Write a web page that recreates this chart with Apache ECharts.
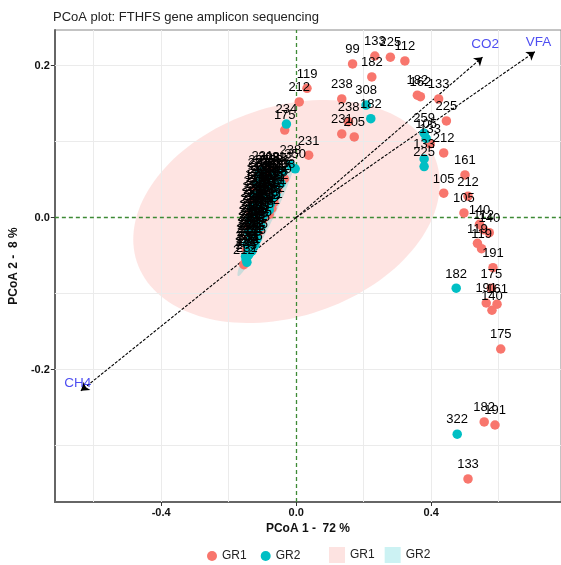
<!DOCTYPE html>
<html><head><meta charset="utf-8">
<script src="https://cdn.jsdelivr.net/npm/echarts@6/dist/echarts.min.js"></script>
<style>html,body{margin:0;padding:0;background:#fff}#c{width:561px;height:565px}</style>
</head><body><div id="c"></div>
<script>
// ---- axes ----
const xTicks = [-0.4, 0, 0.4];
const yTicks = [-0.2, 0, 0.2];
const xGrid = [-0.6, -0.4, -0.2, 0.2, 0.4, 0.6];
const yGrid = [-0.3, -0.2, -0.1, 0.1, 0.2];

// ---- samples [PCoA1, PCoA2, label] ----
const gr1Outliers = [
  [0.167, 0.202, '99'], [0.233, 0.2125, '133'], [0.279, 0.211, '225'], [0.322, 0.206, '112'],
  [0.224, 0.185, '182'], [0.032, 0.170, '119'], [0.009, 0.152, '212'], [0.135, 0.156, '238'],
  [0.155, 0.126, '238'], [0.135, 0.110, '231'], [0.172, 0.106, '205'], [0.037, 0.082, '231'],
  [-0.034, 0.115, '175'], [0.359, 0.161, '182'], [0.368, 0.159, '162'], [0.422, 0.156, '133'],
  [0.445, 0.127, '225'], [0.397, 0.097, '133'], [0.437, 0.085, '212'], [0.500, 0.056, '161'],
  [0.437, 0.032, '105'], [0.509, 0.028, '212'], [0.497, 0.006, '105'], [0.543, -0.009, '140'],
  [0.572, -0.020, '140'], [0.555, -0.016, '112'], [0.537, -0.034, '119'], [0.549, -0.041, '119'],
  [0.583, -0.066, '191'], [0.578, -0.093, '175'], [0.563, -0.1125, '191'], [0.595, -0.114, '161'],
  [0.580, -0.122, '140'], [0.606, -0.173, '175'], [0.557, -0.269, '182'], [0.589, -0.273, '191'],
  [0.509, -0.344, '133']
];
const gr2Outliers = [
  [0.207, 0.148, '308'], [0.221, 0.130, '182'], [-0.029, 0.123, '234'], [0.379, 0.111, '259'],
  [0.385, 0.104, '105'], [0.379, 0.077, '133'], [0.379, 0.067, '225'], [0.474, -0.093, '182'],
  [0.477, -0.285, '322'], [-0.003, 0.064, '350']
];
const gr1Cluster = [
  [-0.080, 0.060, '308'], [-0.112, 0.052, '231'], [-0.075, 0.053, '212'], [-0.035, 0.051, '238'],
  [-0.098, 0.045, '205'], [-0.063, 0.046, '231'], [-0.120, 0.037, '175'], [-0.088, 0.038, '212'],
  [-0.055, 0.036, '182'], [-0.108, 0.029, '238'], [-0.076, 0.030, '205'], [-0.128, 0.021, '231'],
  [-0.096, 0.022, '140'], [-0.066, 0.020, '212'], [-0.116, 0.013, '119'], [-0.086, 0.014, '205'],
  [-0.072, 0.012, '231'], [-0.134, 0.005, '238'], [-0.106, 0.006, '212'], [-0.080, 0.004, '182'],
  [-0.124, -0.003, '231'], [-0.098, -0.002, '205'], [-0.139, -0.011, '212'], [-0.115, -0.010, '238'],
  [-0.130, -0.019, '231'], [-0.110, -0.018, '175'], [-0.143, -0.027, '205'], [-0.124, -0.026, '212'],
  [-0.138, -0.035, '231'], [-0.148, -0.043, '238'], [-0.155, -0.062, '212'],
  [-0.090, 0.056, '212'], [-0.050, 0.057, '231'], [-0.105, 0.048, '238'], [-0.070, 0.049, '205'],
  [-0.112, 0.041, '231'], [-0.078, 0.041, '212'], [-0.116, 0.033, '205'], [-0.082, 0.034, '238'],
  [-0.118, 0.025, '212'], [-0.086, 0.026, '231'], [-0.124, 0.017, '238'], [-0.090, 0.018, '205'],
  [-0.126, 0.009, '212'], [-0.094, 0.010, '231'], [-0.128, 0.001, '205'], [-0.132, -0.007, '238'],
  [-0.106, -0.006, '231'], [-0.135, -0.015, '212'], [-0.114, -0.014, '205'], [-0.137, -0.023, '231'],
  [-0.141, -0.031, '238'], [-0.144, -0.039, '212'], [-0.145, -0.047, '205']
];
const gr2Cluster = [
  [-0.100, 0.061, '231'], [-0.060, 0.059, '238'], [-0.040, 0.060, '212'], [-0.095, 0.052, '205'],
  [-0.055, 0.053, '231'], [-0.115, 0.045, '212'], [-0.082, 0.044, '238'], [-0.045, 0.045, '350'],
  [-0.104, 0.037, '231'], [-0.070, 0.038, '205'], [-0.124, 0.029, '238'], [-0.092, 0.028, '212'],
  [-0.060, 0.030, '231'], [-0.112, 0.021, '205'], [-0.080, 0.022, '238'], [-0.131, 0.013, '231'],
  [-0.101, 0.012, '212'], [-0.120, 0.005, '205'], [-0.092, 0.006, '231'], [-0.137, -0.003, '212'],
  [-0.111, -0.004, '238'], [-0.127, -0.011, '231'], [-0.104, -0.012, '205'], [-0.141, -0.019, '212'],
  [-0.120, -0.020, '231'], [-0.134, -0.027, '238'], [-0.116, -0.028, '205'], [-0.146, -0.035, '212'],
  [-0.130, -0.034, '231'], [-0.122, -0.036, '175'], [-0.140, -0.043, '231'], [-0.131, -0.044, '205'],
  [-0.150, -0.051, '212'], [-0.142, -0.050, '238'], [-0.146, -0.059, '231'], [-0.017, 0.069, '238'],
  [-0.070, 0.056, '238'], [-0.110, 0.057, '205'], [-0.088, 0.048, '231'], [-0.050, 0.049, '212'],
  [-0.096, 0.041, '205'], [-0.060, 0.042, '238'], [-0.100, 0.033, '212'], [-0.066, 0.034, '231'],
  [-0.102, 0.025, '205'], [-0.070, 0.026, '212'], [-0.108, 0.017, '231'], [-0.076, 0.018, '238'],
  [-0.110, 0.009, '205'], [-0.080, 0.010, '212'], [-0.112, 0.001, '231'], [-0.098, 0.002, '238'],
  [-0.119, -0.007, '212'], [-0.124, -0.015, '231'], [-0.126, -0.023, '205'], [-0.128, -0.031, '212'],
  [-0.136, -0.039, '238'], [-0.138, -0.047, '231'], [-0.148, -0.055, '205']
];

// ---- environmental vectors ----
const vectorNames = ['CO2', 'VFA', 'CH4'];
const vectorX = [0.552, 0.707, -0.638];
const vectorY = [0.211, 0.218, -0.228];
const vectorLabelX = [0.560, 0.718, -0.647];
const vectorLabelY = [0.228, 0.230, -0.218];

// ---- ellipses: centre x, centre y, half-range x, half-range y, correlation ----
const ellipseGR1 = [-0.0287, 0.0079, 0.454, 0.1467, 0.25];
const ellipseGR2 = [-0.089, -0.001, 0.085, 0.076, 0.97];

const RED = '#F8766D', CYAN = '#00BFC4';
const FONT = 'Liberation Sans, Arial, sans-serif';
const ZERO_LINE = { color: '#3d8a35', width: 1.3, type: [4, 3] };

function ellipseSeries(name, par, fill) {
  return {
    type: 'custom', name, coordinateSystem: 'cartesian2d', silent: true, z: 2,
    data: [[par[0], par[1]]],
    renderItem(params, api) {
      const [cx, cy, rx, ry, rho] = par;
      const d = Math.acos(rho);
      const pts = [];
      for (let i = 0; i <= 144; i++) {
        const t = i / 144 * 2 * Math.PI;
        pts.push(api.coord([cx + rx * Math.cos(t), cy + ry * Math.cos(t - d)]));
      }
      return { type: 'polygon', shape: { points: pts }, style: { fill, stroke: null } };
    }
  };
}

function pointSeries(name, data, color) {
  return {
    type: 'scatter', name, data, z: 5, symbolSize: 9.5,
    itemStyle: { color, opacity: 1 },
    label: {
      show: true, position: 'top', distance: 3, formatter: p => p.value[2],
      color: '#000', fontSize: 13, fontFamily: FONT
    },
    emphasis: { disabled: true }
  };
}

const chart = echarts.init(document.getElementById('c'), null, { renderer: 'canvas' });
chart.setOption({
  animation: false,
  backgroundColor: '#fff',
  title: {
    text: 'PCoA plot: FTHFS gene amplicon sequencing', left: 53, top: 11, padding: 0,
    textStyle: { fontSize: 13, fontWeight: 'normal', color: '#222', fontFamily: FONT }
  },
  grid: { left: 52, top: 30, right: -13, bottom: 63, show: true, borderColor: '#888', borderWidth: 1, backgroundColor: 'transparent' },
  xAxis: {
    type: 'value', min: -0.715, max: 0.7845, splitLine: { show: false },
    axisLine: { onZero: false, lineStyle: { color: '#666', width: 2 } },
    axisTick: { show: true, length: 4, customValues: xTicks, lineStyle: { color: '#333' } },
    axisLabel: { customValues: xTicks, formatter: v => v.toFixed(1), fontWeight: 'bold', fontSize: 11, color: '#111', margin: 5, fontFamily: FONT },
    name: 'PCoA 1 -  72 %', nameLocation: 'middle', nameGap: 17,
    nameTextStyle: { fontWeight: 'bold', fontSize: 12, color: '#111', fontFamily: FONT }
  },
  yAxis: {
    type: 'value', min: -0.3743, max: 0.2467, splitLine: { show: false },
    axisLine: { onZero: false, lineStyle: { color: '#666', width: 2 } },
    axisTick: { show: true, length: 4, customValues: yTicks, lineStyle: { color: '#333' } },
    axisLabel: { customValues: yTicks, formatter: v => v.toFixed(1), fontWeight: 'bold', fontSize: 11, color: '#111', margin: 5, fontFamily: FONT },
    name: 'PCoA 2 -  8 %', nameLocation: 'middle', nameGap: 25,
    nameTextStyle: { fontWeight: 'bold', fontSize: 12, color: '#111', fontFamily: FONT }
  },
  legend: [
    {
      left: 207, top: 550, padding: 0, itemWidth: 10, itemHeight: 10, itemGap: 14, icon: 'circle',
      selectedMode: false, textStyle: { fontSize: 12, color: '#222', fontFamily: FONT },
      data: [{ name: 'GR1', itemStyle: { color: RED } }, { name: 'GR2', itemStyle: { color: CYAN } }]
    },
    {
      left: 329, top: 547, padding: 0, itemWidth: 16, itemHeight: 16, itemGap: 10, icon: 'rect',
      selectedMode: false, textStyle: { fontSize: 12, color: '#222', fontFamily: FONT },
      data: [{ name: 'GR1', itemStyle: { color: '#fde3e1' } }, { name: 'GR2', itemStyle: { color: '#ccf2f3' } }]
    }
  ],
  series: [
    {
      type: 'line', data: [], silent: true, z: 1,
      markLine: {
        silent: true, symbol: ['none', 'none'], animation: false, label: { show: false },
        lineStyle: { color: '#ebebeb', width: 1, type: 'solid' }, emphasis: { disabled: true },
        data: [...xGrid.map(v => ({ xAxis: v })), ...yGrid.map(v => ({ yAxis: v }))]
      }
    },
    ellipseSeries('GR1', ellipseGR1, 'rgba(248,118,109,0.2)'),
    ellipseSeries('GR2', ellipseGR2, 'rgba(0,191,196,0.2)'),
    {
      type: 'line', data: [], silent: true, z: 3,
      markLine: {
        silent: true, symbol: ['none', 'none'], animation: false, label: { show: false },
        lineStyle: ZERO_LINE, emphasis: { disabled: true },
        data: [{ xAxis: 0, lineStyle: ZERO_LINE }, { yAxis: 0, lineStyle: ZERO_LINE }]
      }
    },
    {
      type: 'line', data: [], silent: true, z: 4,
      markLine: {
        silent: true, symbol: ['none', 'arrow'], symbolSize: 8, animation: false, label: { show: false },
        lineStyle: { color: '#000', width: 1.1, type: [3, 1.5] }, emphasis: { disabled: true },
        data: vectorNames.map((n, i) => [{ coord: [0, 0] }, { coord: [vectorX[i], vectorY[i]] }])
      }
    },
    pointSeries('GR1', gr1Outliers.concat(gr1Cluster), RED),
    pointSeries('GR2', gr2Outliers.concat(gr2Cluster), CYAN),
    {
      type: 'scatter', z: 6, symbolSize: 0, silent: true,
      data: vectorNames.map((n, i) => ({ name: n, value: [vectorLabelX[i], vectorLabelY[i]] })),
      label: { show: true, position: 'inside', formatter: p => p.name, color: '#2222ee', fontSize: 13.5, fontFamily: FONT }
    }
  ]
});
</script></body></html>
